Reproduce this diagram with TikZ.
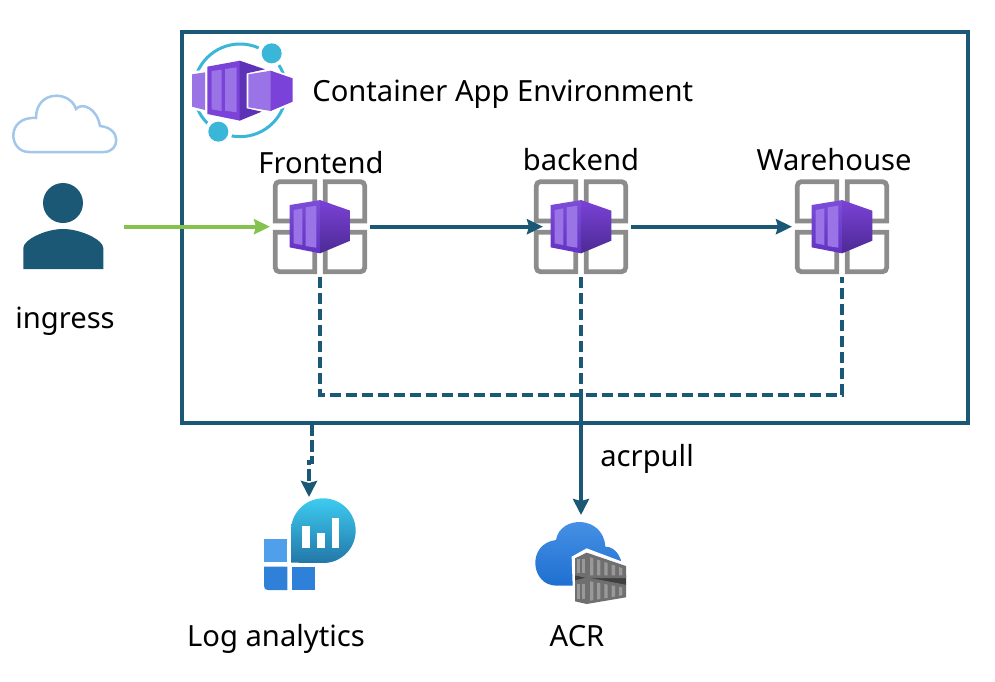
\documentclass[tikz,border=0pt]{standalone}
\usepackage{fontspec}
\setmainfont{Noto Sans}
\usetikzlibrary{arrows.meta, positioning, calc}

\definecolor{linkblue}{HTML}{1B5876}
\definecolor{ingressgreen}{HTML}{84C44E}
\definecolor{cloudblue}{HTML}{A3C7EA}
\definecolor{ringblue}{HTML}{3AB6D9}
\definecolor{framegray}{HTML}{8C8C8C}
\definecolor{purple1}{HTML}{7C4ED8}
\definecolor{purple2}{HTML}{6232C2}
\definecolor{purple3}{HTML}{7A42D8}
\definecolor{purple4}{HTML}{4D2A94}
\definecolor{purple5}{HTML}{9A73E6}
\definecolor{purple6}{HTML}{5E32B6}
\definecolor{logblue1}{HTML}{4F9FEA}
\definecolor{logblue2}{HTML}{2F80D8}
\definecolor{logcyan1}{HTML}{3DCBF0}
\definecolor{logcyan2}{HTML}{2277A8}
\definecolor{acrblue1}{HTML}{4A94E8}
\definecolor{acrblue2}{HTML}{1E6FD0}
\definecolor{acrgray}{HTML}{6F6F6F}
\definecolor{acrlight}{HTML}{999999}
\definecolor{acrdark}{HTML}{3F3F3F}

\begin{document}
\begin{tikzpicture}[
    x=0.2mm, y=-0.2mm,
    font=\fontsize{16.6}{20}\selectfont,
    % Boxes and text
    envbox/.style={draw=linkblue, line width=0.8mm, minimum width=157mm, minimum height=78.2mm, inner sep=0pt},
    iconbox/.style={minimum width=20mm, minimum height=20mm, inner sep=0pt, outer sep=0pt},
    lbl/.style={inner sep=0pt},
    % Arrows
    arr/.style={draw=linkblue, line width=0.8mm, -{Stealth[length=3.2mm,width=3mm,inset=0.4mm]}},
    dasharr/.style={draw=linkblue, line width=0.8mm, dash pattern=on 2.35mm off 0.85mm},
    pullarr/.style={draw=linkblue, line width=0.8mm, -{Stealth[length=3.2mm,width=3.2mm,inset=0.4mm]}},
    greenarr/.style={draw=ingressgreen, line width=0.8mm, -{Stealth[length=3.2mm,width=3mm,inset=0.4mm]}},
    % Container app icon
    appicon/.pic={
        \begin{scope}[scale=1/3]
            \foreach \sx/\sy in {-1/-1, 1/-1, -1/1, 1/1}
                \draw[framegray, line width=0.95mm]
                    (\sx*16,\sy*17) -- (\sx*16,\sy*135) [rounded corners=0.8mm] -- (\sx*134,\sy*135) [sharp corners] -- (\sx*134,\sy*17) -- cycle;
            \shade[top color=purple1, bottom color=purple2] (-91,-65) -- (1,-80) -- (1,80) -- (-91,62) -- cycle;
            \shade[top color=purple3, bottom color=purple4] (0,-80) -- (91,-48) -- (91,42) -- (0,80) -- cycle;
            \fill[purple5] (-79,-50) -- (-53,-55) -- (-53,55) -- (-79,50) -- cycle;
            \fill[purple5] (-43,-58) -- (-11,-63) -- (-11,63) -- (-43,58) -- cycle;
        \end{scope}
    }
]

\useasboundingbox (0,0) rectangle (995,682);

% Environment box
\node[envbox] (env) at (575,227.5) {};
\node[lbl, anchor=base west] (envlabel) at (312,101) {Container App Environment};

% Environment icon
\begin{scope}[shift={(170,30)}, scale=1/3]
    \draw[ringblue, line width=0.6mm] (210,181) circle[radius=139];
    \fill[white] (305,70) circle[radius=42];
    \fill[white] (145,305) circle[radius=42];
    \fill[ringblue] (305,70) circle[radius=30];
    \fill[ringblue] (145,305) circle[radius=30];
    \fill[white] (58,127) -- (105,118) -- (210,85) -- (295,115) -- (375,140) -- (375,220) -- (300,250) -- (210,280) -- (105,248) -- (58,235) -- cycle;
    \fill[purple5] (66,133) -- (105,127) -- (105,240) -- (66,230) -- cycle;
    \fill[purple3] (112,110) -- (210,92) -- (210,272) -- (112,252) -- cycle;
    \fill[purple6] (209,92) -- (285,118) -- (230,130) -- (230,235) -- (275,245) -- (209,272) -- cycle;
    \fill[purple5] (125,123) -- (155,119) -- (155,243) -- (125,238) -- cycle;
    \fill[purple5] (165,117) -- (200,112) -- (200,247) -- (165,242) -- cycle;
    \fill[purple5] (235,133) -- (303,122) -- (303,243) -- (235,232) -- cycle;
    \fill[purple3] (302,122) -- (368,145) -- (368,215) -- (302,243) -- cycle;
\end{scope}

% Ingress
\node[lbl, minimum width=24.4mm, minimum height=18mm] (person) at (63,226.7) {};
\draw[cloudblue, line width=0.5mm]
    (29,152) -- (104,152) .. controls (120,152) and (122,128) .. (100,126)
    .. controls (97,108) and (82,102) .. (76,109)
    .. controls (70,90) and (36,90) .. (36,118)
    .. controls (6,116) and (8,152) .. (29,152) -- cycle;
\fill[linkblue] (63,203) circle[radius=20];
\fill[linkblue] (23.3,269) -- (23.3,248) .. controls (23.3,240) and (45,229) .. (63,229)
    .. controls (81,229) and (103.3,240) .. (103.3,248) -- (103.3,269) -- cycle;
\node[lbl, anchor=base] (ingresslabel) at (65,328) {ingress};

% Apps
\node[iconbox] (frontend) at (320,226.7) {};
\node[iconbox] (backend) at (581,226.7) {};
\node[iconbox] (warehouse) at (842,226.7) {};
\foreach \app in {frontend, backend, warehouse}
    \pic at (\app) {appicon};
\node[lbl, anchor=base] (frontendlabel) at (321,173) {Frontend};
\node[lbl, anchor=base] (backendlabel) at (581,170) {backend};
\node[lbl, anchor=base] (warehouselabel) at (834,170) {Warehouse};

% Log analytics icon
\node[iconbox] (logs) at (309,547) {};
\begin{scope}[shift={(250,420)}, scale=1/3]
    \fill[logblue1] (42,357) rectangle (112,427);
    \fill[logblue2] (42,440) -- (112,440) -- (112,510) -- (54,510) .. controls (46,510) and (42,506) .. (42,498) -- cycle;
    \fill[logblue2] (125,440) rectangle (195,510);
    \shade[top color=logcyan1, bottom color=logcyan2] (123,428) -- (123,332) arc[start angle=180, end angle=450, radius=97] -- cycle;
    \fill[white] (157,317) rectangle (180,383);
    \fill[white] (202,340) rectangle (224,383);
    \fill[white] (246,295) rectangle (268,383);
\end{scope}
\node[lbl, anchor=base] (logslabel) at (276,646) {Log analytics};

% ACR icon
\node[iconbox] (acr) at (581,565) {};
\begin{scope}[shift={(520,490)}, scale=1/3]
    \shade[top color=acrblue1, bottom color=acrblue2] (110,287)
        .. controls (30,287) and (20,160) .. (108,150)
        .. controls (120,75) and (250,75) .. (256,170)
        .. controls (290,170) and (310,210) .. (305,240) -- (305,287) -- cycle;
    \fill[white] (155,200) -- (200,175) -- (325,222) -- (325,345) -- (160,345) -- cycle;
    \fill[acrdark] (165,250) -- (318,255) -- (318,285) -- (165,275) -- cycle;
    \foreach \yp/\st/\yb/\sb in {188/0.34/264/0, 262/0.19/342/0.17} {
        \fill[acrgray] (165,{\yp+\st*50}) -- (200,\yp) -- (318,{\yp+\st*118}) -- (318,{\yb-\sb*118}) -- (200,\yb) -- (165,\yb-8) -- cycle;
        \foreach \xs in {172, 186}
            \fill[acrlight] (\xs,\yp+20) rectangle (\xs+8,\yb-14);
        \foreach \xs in {210, 231, 253, 275, 297}
            \fill[acrlight] (\xs,{\yp+10+\st*(\xs-200)}) -- (\xs+10,{\yp+10+\st*(\xs-190)}) -- (\xs+10,{\yb-8-\sb*(\xs-190)}) -- (\xs,{\yb-8-\sb*(\xs-200)}) -- cycle;
    }
\end{scope}
\node[lbl, anchor=base] (acrlabel) at (577,646) {ACR};

% Links
\coordinate (logstart) at (312,424);
\draw[greenarr] (person.east) -- (frontend.west);
\draw[arr] (frontend.east) -- ([xshift=2.4mm]backend.west);
\draw[arr] (backend.east) -- (warehouse.west);
\draw[dasharr] (frontend.south) -- (frontend.south |- 0,395) -| (warehouse.south);
\draw[dasharr] (backend.south) -- (backend.south |- 0,395);
\draw[pullarr] (backend.south |- 0,395) -- (acr.north);
\draw[dasharr, -{Stealth[length=3.2mm,width=3.2mm,inset=0.4mm]}] (logstart) -- ++(0,38) -| (logs.north);
\node[lbl, anchor=base west] (pulllabel) at (600,466) {acrpull};
\end{tikzpicture}
\end{document}
